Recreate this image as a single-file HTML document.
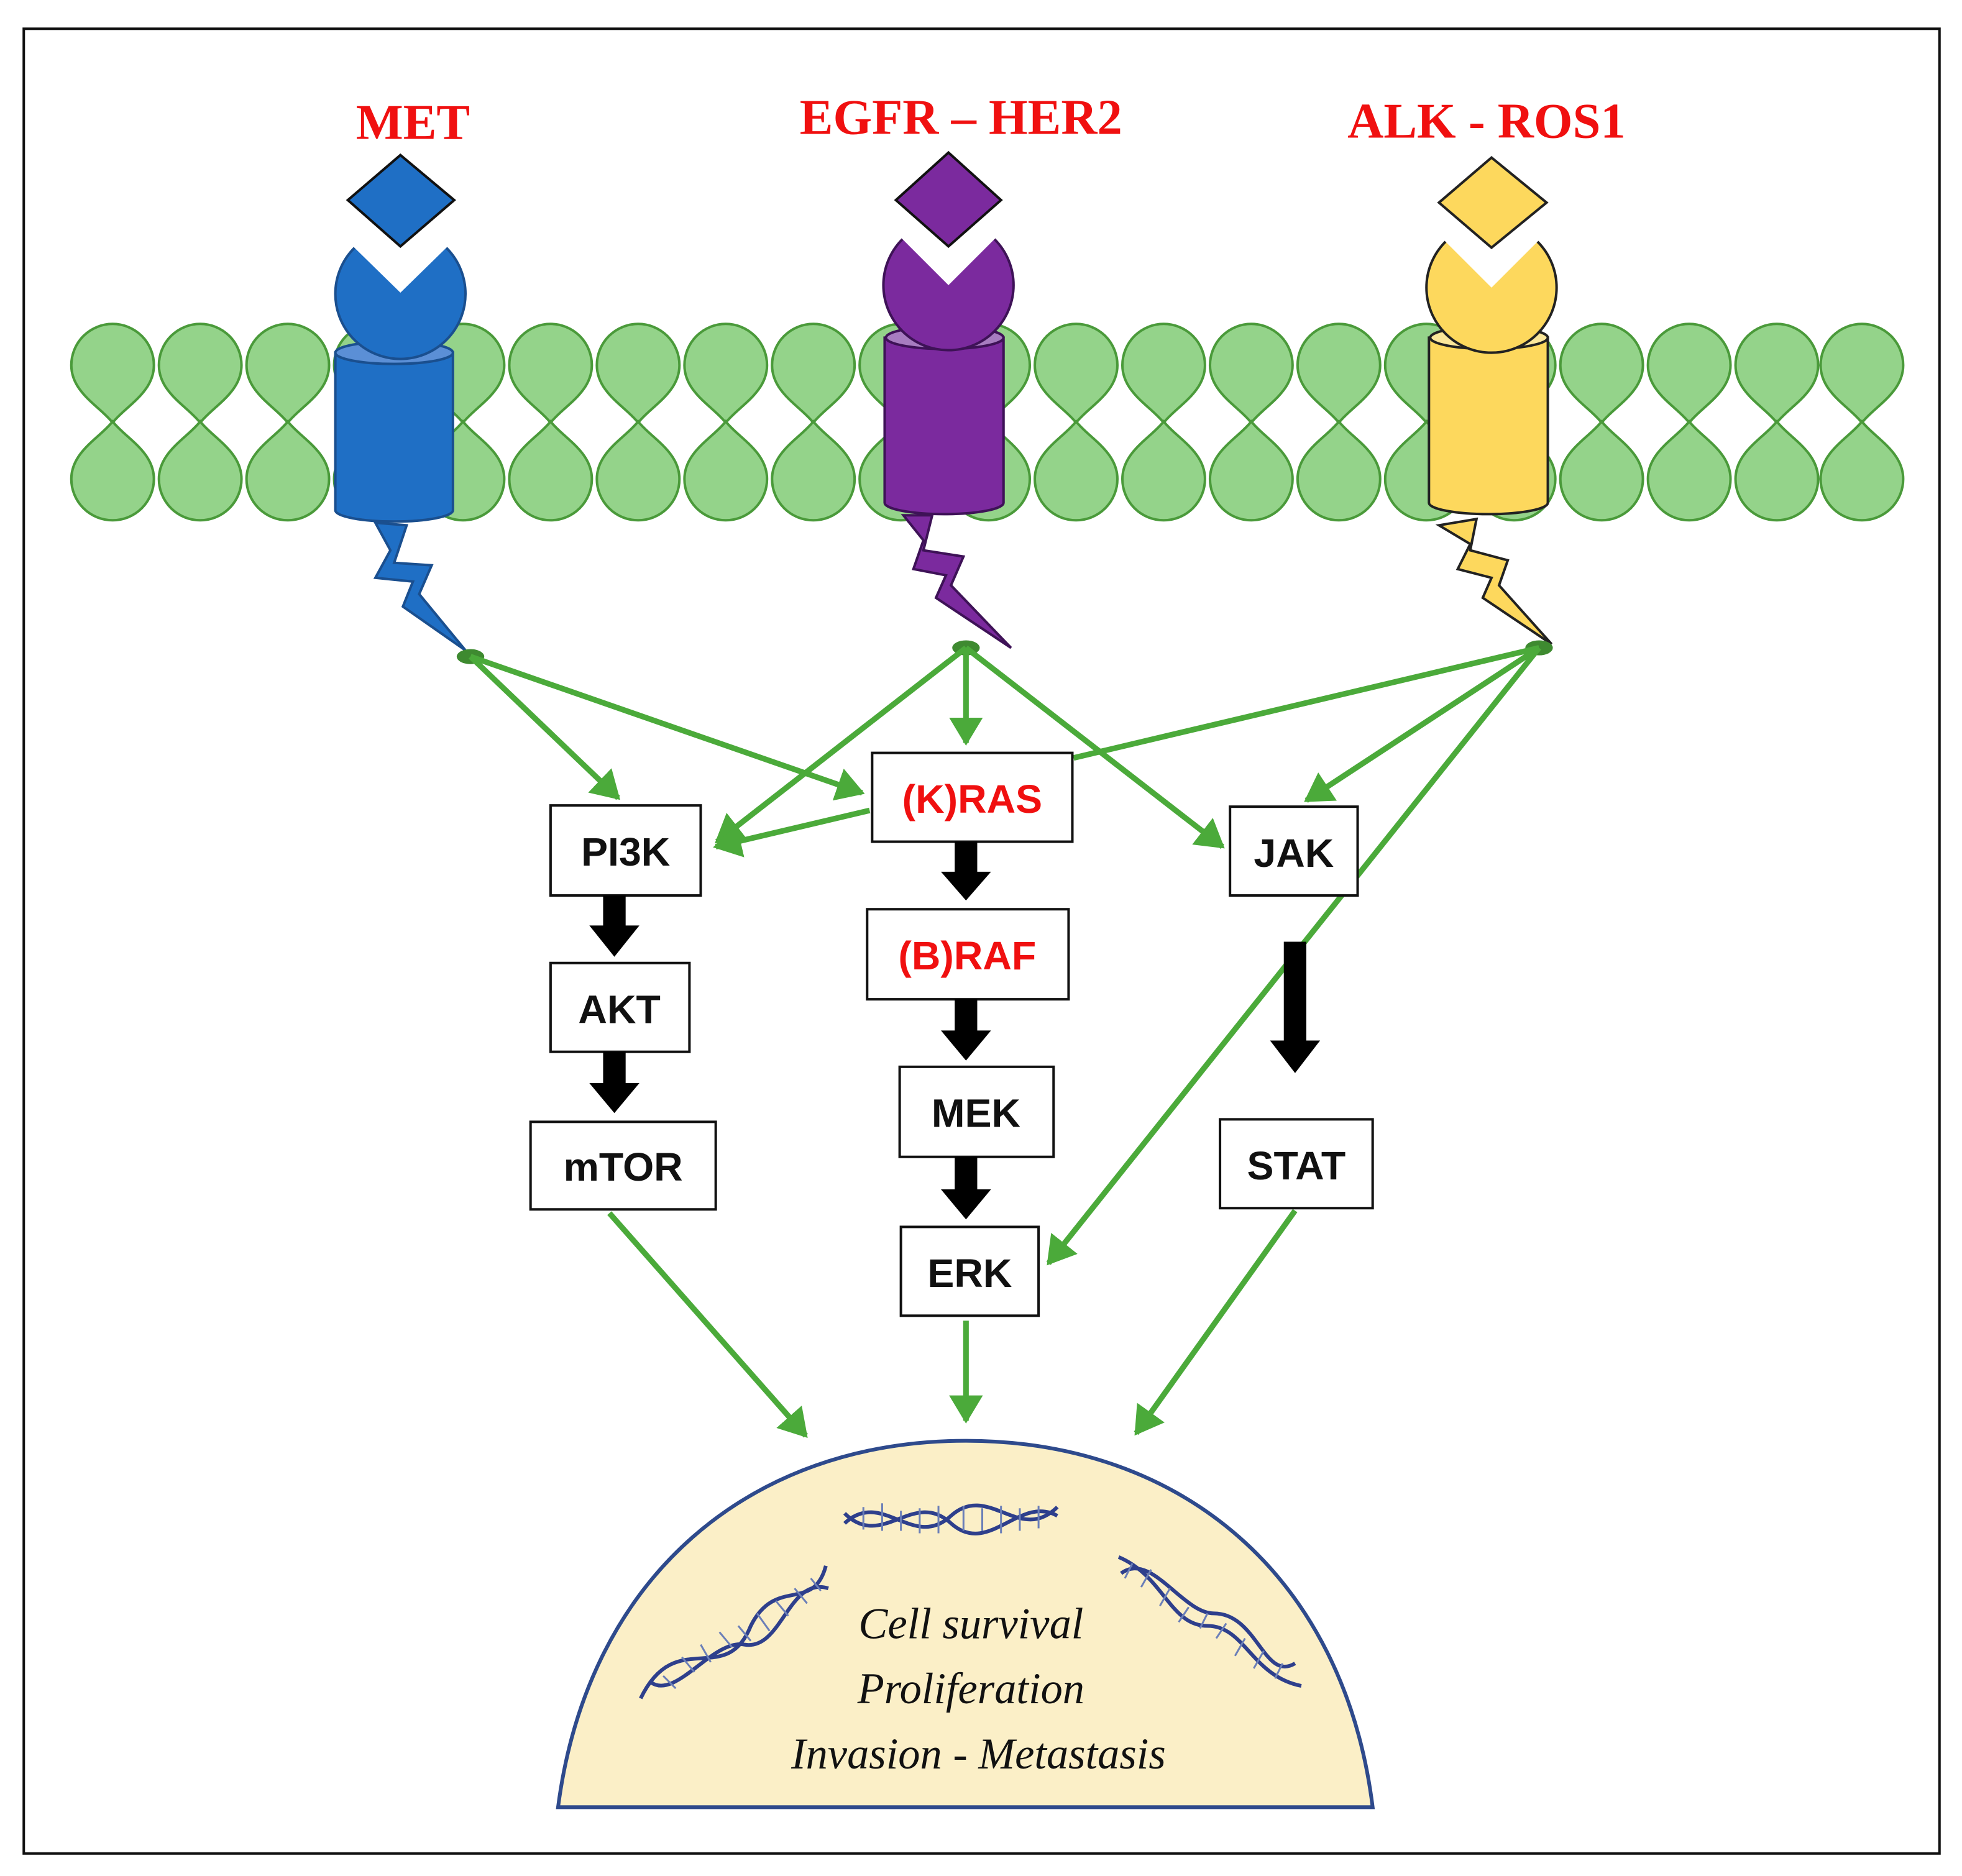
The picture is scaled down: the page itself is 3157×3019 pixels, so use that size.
<!DOCTYPE html>
<html><head><meta charset="utf-8"><style>html,body{margin:0;padding:0;background:#fff}svg{display:block}</style></head>
<body>
<svg width="3157" height="3019" viewBox="0 0 1568 1500" preserveAspectRatio="none" xmlns="http://www.w3.org/2000/svg">
<defs>
<marker id="ga" markerWidth="6" markerHeight="6" refX="4.5" refY="3" orient="auto" markerUnits="strokeWidth"><path d="M0,0 L5,3 L0,6 Z" fill="#4BAA3A"/></marker>
<g id="drop"><path d="M0,46 C-10,33 -33,22 -33,0 A33,33 0 0 1 33,0 C33,22 10,33 0,46 Z" fill="#94D38A" stroke="#4A9A3A" stroke-width="2"/></g>
</defs>
<rect x="0" y="0" width="1568" height="1500" fill="#fff"/>
<rect x="19" y="23" width="1531" height="1459" fill="none" stroke="#111" stroke-width="2"/>

<g font-family="'Liberation Serif',serif" font-weight="bold" font-size="40" fill="#F01010" text-anchor="middle">
<text x="330" y="111">MET</text><text x="768" y="107">EGFR – HER2</text><text x="1188" y="110">ALK - ROS1</text></g>

<g>
<use href="#drop" x="90" y="292"/><use href="#drop" x="160" y="292"/><use href="#drop" x="230" y="292"/><use href="#drop" x="300" y="292"/><use href="#drop" x="370" y="292"/><use href="#drop" x="440" y="292"/><use href="#drop" x="510" y="292"/><use href="#drop" x="580" y="292"/><use href="#drop" x="650" y="292"/><use href="#drop" x="720" y="292"/><use href="#drop" x="790" y="292"/><use href="#drop" x="860" y="292"/><use href="#drop" x="930" y="292"/><use href="#drop" x="1000" y="292"/><use href="#drop" x="1070" y="292"/><use href="#drop" x="1140" y="292"/><use href="#drop" x="1210" y="292"/><use href="#drop" x="1280" y="292"/><use href="#drop" x="1350" y="292"/><use href="#drop" x="1420" y="292"/><use href="#drop" x="1488" y="292"/>
<g transform="translate(0,675) scale(1,-1)">
<use href="#drop" x="90" y="292"/><use href="#drop" x="160" y="292"/><use href="#drop" x="230" y="292"/><use href="#drop" x="300" y="292"/><use href="#drop" x="370" y="292"/><use href="#drop" x="440" y="292"/><use href="#drop" x="510" y="292"/><use href="#drop" x="580" y="292"/><use href="#drop" x="650" y="292"/><use href="#drop" x="720" y="292"/><use href="#drop" x="790" y="292"/><use href="#drop" x="860" y="292"/><use href="#drop" x="930" y="292"/><use href="#drop" x="1000" y="292"/><use href="#drop" x="1070" y="292"/><use href="#drop" x="1140" y="292"/><use href="#drop" x="1210" y="292"/><use href="#drop" x="1280" y="292"/><use href="#drop" x="1350" y="292"/><use href="#drop" x="1420" y="292"/><use href="#drop" x="1488" y="292"/>
</g></g>

<g stroke="#1A4F8F" stroke-width="2">
<path d="M268,282 L268,408 A47,9 0 0 0 362,408 L362,282 Z" fill="#1F6FC5"/>
<ellipse cx="315" cy="282" rx="47" ry="9" fill="#5B8FD6"/>
<circle cx="320" cy="235" r="52" fill="#1F6FC5"/>
<polygon points="275,190 320,234 365,190 365,170 275,170" fill="#fff" stroke="none"/>
<polygon points="320,124 363,160 320,197 278,160" fill="#1F6FC5" stroke="#111"/>
<polygon points="300,418 325,420 315,450 345,452 335,475 372,520 322,485 330,465 300,462 312,440" fill="#1F6FC5"/>
</g>
<g stroke="#3E1257" stroke-width="2">
<path d="M707,270 L707,402 A47,9 0 0 0 802,402 L802,270 Z" fill="#7B2A9E"/>
<ellipse cx="755" cy="270" rx="47" ry="9" fill="#A77CC0"/>
<circle cx="758" cy="228" r="52" fill="#7B2A9E"/>
<polygon points="713,183 758,228 803,183 803,160 713,160" fill="#fff" stroke="none"/>
<polygon points="758,122 800,160 758,197 716,160" fill="#7B2A9E" stroke="#111"/>
<polygon points="722,412 745,412 738,440 770,445 760,468 808,518 748,478 756,460 730,455 738,432" fill="#7B2A9E"/>
</g>
<g stroke="#222" stroke-width="2">
<path d="M1142,270 L1142,402 A47,9 0 0 0 1237,402 L1237,270 Z" fill="#FDD85D"/>
<ellipse cx="1190" cy="270" rx="47" ry="9" fill="#FBE79A"/>
<circle cx="1192" cy="230" r="52" fill="#FDD85D"/>
<polygon points="1147,185 1192,230 1237,185 1237,160 1147,160" fill="#fff" stroke="none"/>
<polygon points="1192,126 1236,162 1192,198 1150,162" fill="#FDD85D"/>
<polygon points="1150,420 1180,415 1175,440 1205,448 1198,468 1240,515 1185,478 1192,462 1165,455 1175,435" fill="#FDD85D"/>
</g>

<g fill="#3E8A30"><ellipse cx="376" cy="525" rx="11" ry="6"/><ellipse cx="772" cy="518" rx="11" ry="6"/><ellipse cx="1230" cy="518" rx="11" ry="6"/></g>
<g stroke="#4BAA3A" stroke-width="4.5" fill="none" marker-end="url(#ga)">
<line x1="376" y1="525" x2="494" y2="638"/>
<line x1="376" y1="525" x2="689" y2="634"/>
<line x1="772" y1="518" x2="573" y2="673"/>
<line x1="772" y1="518" x2="772" y2="594"/>
<line x1="772" y1="518" x2="977" y2="677"/>
<line x1="1230" y1="518" x2="1044" y2="640"/>
<line x1="1230" y1="518" x2="838" y2="1010"/>
<line x1="695" y1="648" x2="572" y2="677"/>
<line x1="487" y1="970" x2="644" y2="1148"/>
<line x1="772" y1="1056" x2="772" y2="1136"/>
<line x1="1035" y1="968" x2="908" y2="1146"/>
</g>
<line x1="1230" y1="518" x2="858" y2="606" stroke="#4BAA3A" stroke-width="4.5"/>

<g fill="#fff" stroke="#111" stroke-width="2">
<rect x="440" y="644" width="120" height="72"/><rect x="440" y="770" width="111" height="71"/><rect x="424" y="897" width="148" height="70"/>
<rect x="697" y="602" width="160" height="71"/><rect x="693" y="727" width="161" height="72"/><rect x="719" y="853" width="123" height="72"/><rect x="720" y="981" width="110" height="71"/>
<rect x="983" y="645" width="102" height="71"/><rect x="975" y="895" width="122" height="71"/>
</g>
<g font-family="'Liberation Sans',sans-serif" font-weight="bold" font-size="32" text-anchor="middle" fill="#111">
<text x="500" y="692">PI3K</text><text x="495" y="818">AKT</text><text x="498" y="944">mTOR</text>
<text x="777" y="650" fill="#F01010">(K)RAS</text><text x="773" y="775" fill="#F01010">(B)RAF</text>
<text x="780" y="901">MEK</text><text x="775" y="1029">ERK</text>
<text x="1034" y="693">JAK</text><text x="1036" y="943">STAT</text></g>

<g fill="#000">
<polygon points="482,716 500,716 500,740 511,740 491,765 471,740 482,740"/>
<polygon points="482,841 500,841 500,866 511,866 491,890 471,866 482,866"/>
<polygon points="763,673 781,673 781,697 792,697 772,720 752,697 763,697"/>
<polygon points="763,799 781,799 781,824 792,824 772,848 752,824 763,824"/>
<polygon points="763,925 781,925 781,951 792,951 772,975 752,951 763,951"/>
<polygon points="1026,753 1044,753 1044,832 1055,832 1035,858 1015,832 1026,832"/>
</g>

<path d="M446,1445 C470,1260 600,1152 772,1152 C944,1152 1074,1260 1097,1445 Z" fill="#FBEFC7" stroke="#2E4A8C" stroke-width="3"/>
<g fill="none" stroke="#2E3F8C" stroke-width="3">
<path d="M675,1218 C705,1190 730,1240 760,1212 C790,1185 815,1235 845,1205"/>
<path d="M675,1210 C705,1240 730,1190 760,1218 C790,1245 815,1195 845,1212"/>
<path d="M512,1358 C540,1300 580,1350 600,1300 C620,1260 650,1290 660,1252"/>
<path d="M520,1345 C540,1360 570,1310 595,1315 C625,1320 630,1260 662,1270"/>
<path d="M894,1245 C930,1260 935,1300 965,1300 C995,1300 1000,1340 1040,1348"/>
<path d="M896,1258 C920,1240 945,1290 970,1290 C1005,1290 1010,1345 1035,1330"/>
</g>
<g stroke="#6B7FB8" stroke-width="1.5">
<path d="M690,1205 v18 M705,1202 v22 M720,1208 v16 M735,1206 v20 M750,1204 v22 M770,1204 v20 M785,1206 v18 M800,1204 v22 M815,1206 v18 M830,1204 v18"/>
<path d="M530,1340 l10,10 M545,1325 l10,12 M560,1315 l8,14 M575,1305 l10,12 M590,1300 l10,12 M605,1290 l10,14 M620,1280 l10,12 M635,1270 l10,12 M648,1262 l8,10"/>
<path d="M905,1250 l-6,12 M920,1255 l-8,14 M935,1270 l-8,14 M950,1285 l-8,12 M965,1290 l-6,12 M980,1298 l-8,12 M995,1310 l-8,14 M1010,1320 l-8,14 M1025,1330 l-6,12"/>
</g>
<g font-family="'Liberation Serif',serif" font-style="italic" font-size="35" fill="#111" text-anchor="middle">
<text x="776" y="1310">Cell survival</text><text x="776" y="1362">Proliferation</text><text x="782" y="1414">Invasion - Metastasis</text></g>
</svg>
</body></html>
